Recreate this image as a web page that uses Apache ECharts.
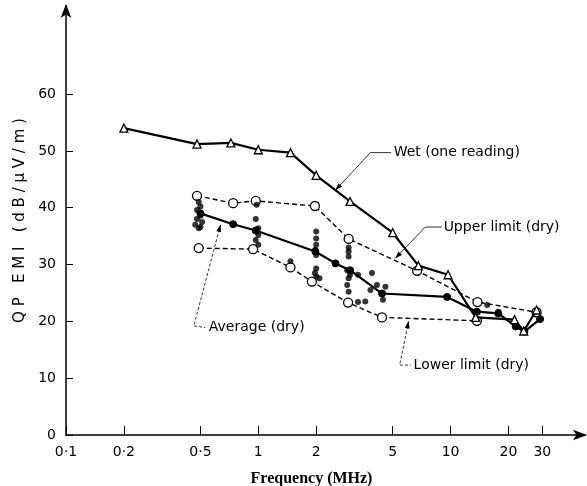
<!DOCTYPE html>
<html>
<head>
<meta charset="utf-8">
<script src="https://cdn.jsdelivr.net/npm/echarts@6/dist/echarts.min.js"></script>
<style>
  html, body { margin: 0; background: #fff; }
  #chart { width: 587px; height: 486px; }
</style>
</head>
<body>
<div id="chart"></div>
<script>
// tick labels
const freqTicks = [0.1, 0.2, 0.5, 1, 2, 5, 10, 20, 30];
const emiTicks = [0, 10, 20, 30, 40, 50, 60];

// [frequency MHz, QP EMI dB/uV/m]
const wet = [[0.2, 54], [0.48, 51.2], [0.72, 51.4], [1, 50.2], [1.47, 49.7], [2, 45.7],
  [3, 41.1], [5, 35.6], [6.8, 29.8], [9.7, 28.2], [13.5, 20.7], [21.5, 20.3], [24, 18.3], [28, 22]];
const upperDry = [[0.48, 42.1], [0.74, 40.8], [0.97, 41.2], [1.97, 40.3], [2.95, 34.5],
  [6.7, 28.9], [13.8, 23.4], [28, 21.6]];
const lowerDry = [[0.49, 32.9], [0.94, 32.7], [1.47, 29.5], [1.9, 27.0], [2.93, 23.3],
  [4.4, 20.7], [13.7, 20.1]];
const averageDry = [[0.5, 39.0], [0.74, 37.1], [0.97, 36.0], [1.98, 32.3], [2.52, 30.2],
  [3.0, 29.0], [4.4, 24.9], [9.6, 24.3], [13.7, 21.7], [17.7, 21.4], [21.8, 19.1], [24.2, 18.2], [29.2, 20.4]];
const dryReadings = [
  [0.49, 41.0], [0.5, 40.2], [0.48, 39.6], [0.5, 38.6], [0.48, 38.0], [0.51, 37.5], [0.47, 37.0], [0.5, 36.6], [0.49, 36.4],
  [0.98, 40.5], [0.97, 38.0], [1.0, 36.4], [0.98, 35.8], [1.0, 35.2], [0.97, 34.3], [1.0, 33.5],
  [1.47, 30.6],
  [2.0, 35.8], [2.0, 34.6], [2.0, 33.5], [1.98, 32.6], [2.0, 31.7], [2.0, 29.3], [1.97, 28.5], [2.0, 27.9], [2.08, 27.6],
  [2.95, 33.0], [2.95, 32.3], [2.95, 31.4], [2.9, 29.0], [3.0, 28.2], [2.95, 27.6], [2.9, 26.4], [2.95, 25.2],
  [3.3, 28.2], [3.9, 28.5], [3.3, 23.4], [3.6, 23.5],
  [3.83, 25.5], [4.14, 26.4], [4.58, 26.1], [4.45, 23.8], [4.4, 25.0],
  [15.5, 22.9], [17.7, 21.7]
];

// annotation leaders: arrow tip first, then path to the text
const notes = [
  { text: 'Wet (one reading)', path: [[2.52, 43.1], [3.83, 49.7], [4.9, 49.7]], at: [5.06, 49.7], dash: false },
  { text: 'Upper limit (dry)', path: [[5.16, 31.1], [7.38, 36.6], [9.0, 36.6]], at: [9.2, 36.6], dash: false },
  { text: 'Average (dry)', path: [[0.636, 37.0], [0.462, 19.2], [0.53, 18.9]], at: [0.553, 18.9], dash: true },
  { text: 'Lower limit (dry)', path: [[6.05, 20.0], [5.43, 12.3], [6.2, 12.3]], at: [6.42, 12.3], dash: true }
];

const fontSans = 'DejaVu Sans';
// spread letters, like the original lettering
const spaced = s => s.split(' ').map(w => w.split('').join(' ')).join('   ');

const chart = echarts.init(document.getElementById('chart'));

chart.setOption({
  backgroundColor: '#fff',
  animation: false,
  grid: { left: 66, right: 2, top: 6, bottom: 51, outerBoundsMode: 'none', containLabel: false },
  xAxis: {
    type: 'log',
    logBase: 10,
    min: 0.1,
    max: 50,
    name: 'Frequency (MHz)',
    nameLocation: 'middle',
    nameGap: 36,
    nameTextStyle: { fontFamily: 'Liberation Serif', fontWeight: 'bold', fontSize: 16, color: '#000', padding: [0, 28, 0, 0] },
    axisLine: { lineStyle: { color: '#000', width: 1.5 }, symbol: ['none', 'arrow'], symbolSize: [8, 14], symbolOffset: [0, 2] },
    axisTick: { inside: true, length: 9, customValues: freqTicks, lineStyle: { color: '#000' } },
    axisLabel: {
      customValues: freqTicks, margin: 10, color: '#000', fontFamily: fontSans, fontSize: 14,
      formatter: v => String(v).replace('.', '·')
    },
    splitLine: { show: false },
    minorTick: { show: false }
  },
  yAxis: {
    type: 'value',
    min: 0,
    max: 75.5,
    name: spaced('QP EMI (dB/μV/m)'),
    nameLocation: 'middle',
    nameGap: 36,
    nameTextStyle: { fontFamily: fontSans, fontSize: 15, color: '#000' },
    axisLine: { show: true, lineStyle: { color: '#000', width: 1.5 }, symbol: ['none', 'arrow'], symbolSize: [8, 14], symbolOffset: [0, 2] },
    axisTick: { show: true, inside: true, length: 7, customValues: emiTicks, lineStyle: { color: '#000' } },
    axisLabel: { customValues: emiTicks, margin: 10, color: '#000', fontFamily: fontSans, fontSize: 14 },
    splitLine: { show: false }
  },
  series: [
    {
      name: 'Upper limit (dry)', type: 'line', data: upperDry, z: 3,
      lineStyle: { color: '#000', width: 1.4, type: [5, 3] },
      symbol: 'circle', symbolSize: 9,
      itemStyle: { color: '#fff', borderColor: '#000', borderWidth: 1.3 }
    },
    {
      name: 'Lower limit (dry)', type: 'line', data: lowerDry, z: 3,
      lineStyle: { color: '#000', width: 1.4, type: [5, 3] },
      symbol: 'circle', symbolSize: 9,
      itemStyle: { color: '#fff', borderColor: '#000', borderWidth: 1.3 }
    },
    {
      name: 'Average (dry)', type: 'line', data: averageDry, z: 4,
      lineStyle: { color: '#000', width: 2.2 },
      symbol: 'circle', symbolSize: 7,
      itemStyle: { color: '#000', borderColor: '#000' }
    },
    {
      name: 'Dry readings', type: 'scatter', data: dryReadings, z: 5,
      symbol: 'circle', symbolSize: 6,
      itemStyle: { color: '#000' }
    },
    {
      name: 'Wet (one reading)', type: 'line', data: wet, z: 6,
      lineStyle: { color: '#000', width: 2.2 },
      symbol: 'triangle', symbolSize: 8,
      itemStyle: { color: '#fff', borderColor: '#000', borderWidth: 1.3 }
    }
  ]
});

// leader lines and labels placed from data coordinates
const graphic = [];
notes.forEach(n => {
  const pts = n.path.map(p => chart.convertToPixel({ gridIndex: 0 }, p));
  graphic.push({
    type: 'polyline', z: 10,
    shape: { points: pts },
    style: { stroke: '#000', lineWidth: 0.8, fill: null, lineDash: n.dash ? [3, 2] : null }
  });
  const [tx, ty] = pts[0], [nx, ny] = pts[1];
  const len = Math.hypot(nx - tx, ny - ty), ux = (nx - tx) / len, uy = (ny - ty) / len;
  const bx = tx + ux * 7, by = ty + uy * 7;
  graphic.push({
    type: 'polygon', z: 10,
    shape: { points: [[tx, ty], [bx - uy * 2.5, by + ux * 2.5], [bx + uy * 2.5, by - ux * 2.5]] },
    style: { fill: '#000' }
  });
  const tp = chart.convertToPixel({ gridIndex: 0 }, n.at);
  graphic.push({
    type: 'text', z: 10, x: tp[0], y: tp[1],
    style: { text: n.text, fill: '#000', font: '14px "DejaVu Sans"', textVerticalAlign: 'middle', textAlign: 'left' }
  });
});
chart.setOption({ graphic: graphic });
</script>
</body>
</html>
